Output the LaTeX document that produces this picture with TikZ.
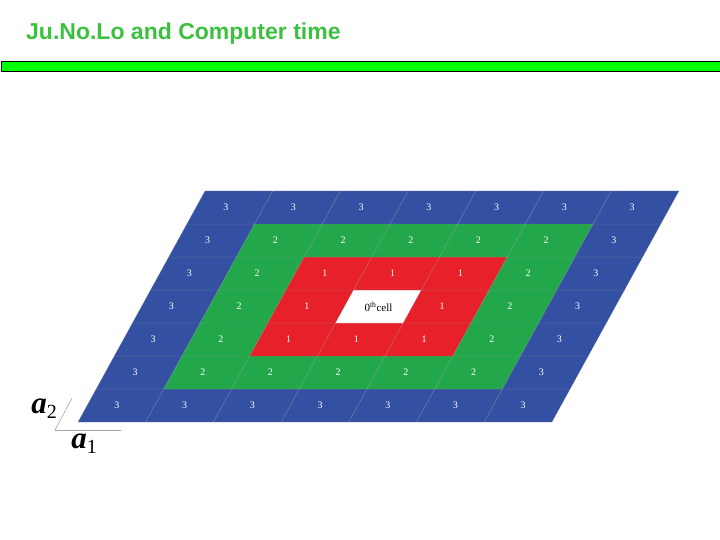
\documentclass[tikz,border=0pt]{standalone}
\usepackage{fontspec}
\newfontfamily\titlefont{Liberation Sans}
\newfontfamily\serifbi{Liberation Serif}[BoldItalicFont={* Bold Italic}]
\begin{document}
\begin{tikzpicture}[x=1pt,y=-1pt,
  lbl/.style={text=white,font=\serifbi\fontsize{10}{10}\selectfont,inner sep=0pt}]
\useasboundingbox (0,0) rectangle (720,540);
\definecolor{cblue}{HTML}{3350A2}
\definecolor{cgreen}{HTML}{22A84A}
\definecolor{cred}{HTML}{E8202A}
\definecolor{tgreen}{HTML}{3CC040}
\node[anchor=west,inner sep=0pt,text=tgreen,font=\titlefont\bfseries\fontsize{23}{23}\selectfont] (title) at (26,34) {Ju.No.Lo and Computer time};
\draw[black,fill=green] (1,61) rectangle (722,71);
\def\cw{67.71}\def\sh{18.14}\def\rh{33}
\foreach \i in {0,...,6}{
 \foreach \j in {0,...,6}{
  \pgfmathtruncatemacro{\r}{max(abs(\i-3),abs(\j-3))}
  \pgfmathsetmacro{\xa}{78+\i*\cw+\j*\sh}
  \pgfmathsetmacro{\ya}{422-\j*\rh}
  \ifcase\r \def\cc{white}\or\def\cc{cred}\or\def\cc{cgreen}\else\def\cc{cblue}\fi
  \fill[\cc] (\xa,\ya) -- ++(\cw,0) -- ++(\sh,-\rh) -- ++(-\cw,0) -- cycle;
  \draw[black!40,line width=0.3pt,opacity=0.5] (\xa,\ya) -- ++(\cw,0) -- ++(\sh,-\rh) -- ++(-\cw,0) -- cycle;
  \ifnum\r>0
   \node[lbl] (c-\i-\j) at (\xa+\cw/2+\sh/2-4,\ya-\rh/2) {\r};
  \else
   \node[text=black,font=\serifbi\fontsize{11}{11}\selectfont,inner sep=0pt] (c-\i-\j) at (\xa+\cw/2+\sh/2,\ya-\rh/2) {0\textsuperscript{th}cell};
  \fi
 }}
\coordinate (o) at (55,430);
\coordinate (e1) at (121,430);
\coordinate (e2) at (72,398);
\draw[gray!70,line width=0.6pt] (o) -- (e1);
\draw[gray!70,line width=0.6pt] (o) -- (e2);
\node[font=\serifbi\fontsize{31}{31}\selectfont,inner sep=0pt] (a2) at (44,409) {\textbf{\textit{a}}\fontsize{20}{20}\selectfont\raisebox{-5pt}{2}};
\node[font=\serifbi\fontsize{31}{31}\selectfont,inner sep=0pt] (a1) at (84,444) {\textbf{\textit{a}}\fontsize{20}{20}\selectfont\raisebox{-5pt}{1}};
\end{tikzpicture}
\end{document}
